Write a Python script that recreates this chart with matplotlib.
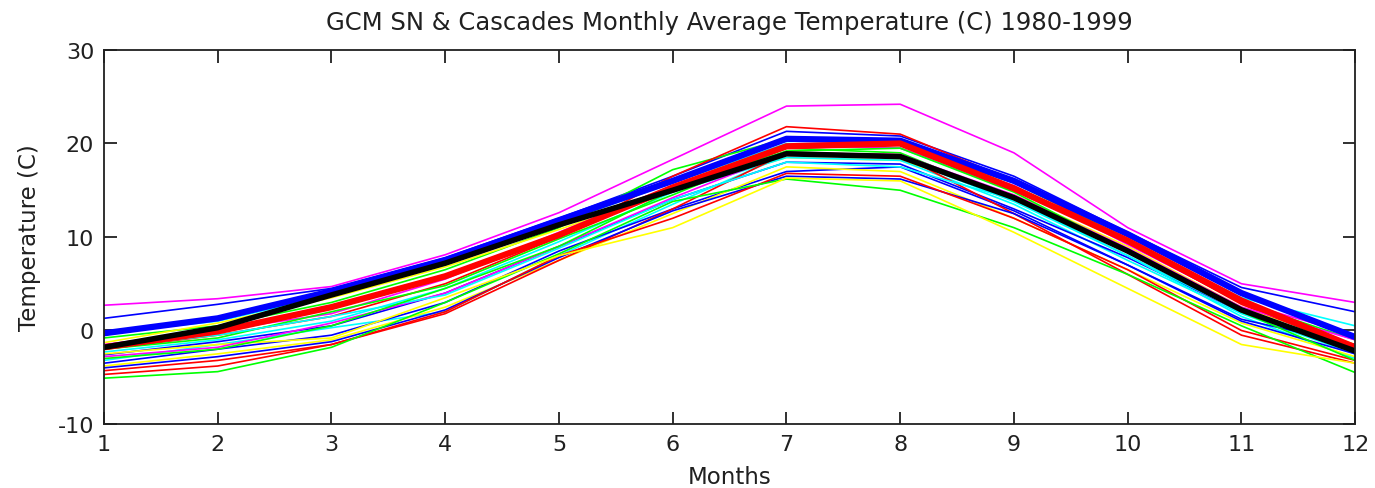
import matplotlib
matplotlib.use("Agg")
from matplotlib import pyplot as plt

months = list(range(1, 13))

# pure RGB line colours
B, G, R, C, M, Y = "#0000ff", "#00ff00", "#ff0000", "#00ffff", "#ff00ff", "#ffff00"

# individual GCM runs (thin lines)
gcm_runs = [
    (M, [2.7, 3.4, 4.7, 8.1, 12.6, 18.3, 24.0, 24.2, 19.0, 11.0, 5.0, 3.0]),
    (B, [1.3, 2.8, 4.5, 7.8, 12.0, 16.5, 21.3, 20.8, 16.5, 10.5, 4.6, 2.0]),
    (C, [-0.3, 1.0, 3.8, 7.0, 11.5, 15.8, 20.0, 19.5, 15.0, 9.5, 3.5, 0.5]),
    (G, [-0.8, 0.5, 3.0, 6.5, 11.0, 17.2, 20.5, 19.8, 15.8, 9.8, 3.0, -1.0]),
    (Y, [-1.3, 0.8, 3.5, 6.8, 10.8, 15.0, 18.5, 18.2, 14.5, 9.0, 2.5, -1.5]),
    (M, [-1.5, 0.0, 1.8, 5.5, 10.5, 15.5, 19.8, 19.5, 15.5, 9.2, 3.0, -0.5]),
    (R, [-2.0, -0.5, 1.5, 5.0, 10.0, 16.5, 21.8, 21.0, 16.0, 9.5, 2.8, -2.0]),
    (C, [-2.3, -1.0, 1.0, 4.5, 9.5, 14.8, 18.5, 18.2, 13.5, 7.5, 1.8, -2.5]),
    (B, [-2.6, -1.2, 0.5, 4.0, 9.0, 14.0, 18.0, 17.8, 13.0, 7.8, 2.0, -2.0]),
    (G, [-2.0, -0.8, 2.0, 4.8, 9.8, 14.5, 19.5, 19.0, 14.0, 8.5, 2.2, -1.8]),
    (C, [-3.2, -1.5, 0.3, 2.0, 8.0, 13.5, 18.8, 18.5, 13.8, 8.0, 1.5, -3.0]),
    (B, [-3.5, -2.0, -0.5, 3.0, 8.5, 13.0, 17.0, 17.5, 12.8, 7.0, 1.2, -1.5]),
    (Y, [-3.8, -2.5, -1.0, 2.5, 7.5, 12.5, 17.5, 17.0, 12.0, 6.5, 0.8, -2.8]),
    (R, [-4.3, -3.2, -1.5, 1.8, 7.5, 13.0, 19.0, 18.8, 12.5, 6.0, -0.5, -3.5]),
    (B, [-4.0, -2.8, -1.2, 2.2, 7.8, 12.8, 16.5, 16.2, 12.5, 7.0, 1.0, -2.5]),
    (R, [-4.7, -3.8, -1.5, 2.0, 8.0, 12.0, 16.8, 16.5, 12.0, 6.5, 0.0, -3.2]),
    (G, [-5.1, -4.4, -1.8, 3.0, 8.2, 13.8, 16.2, 15.0, 11.0, 6.0, 0.5, -4.5]),
    (Y, [-2.5, -1.5, -0.8, 3.5, 8.0, 11.0, 16.3, 16.0, 10.5, 4.5, -1.5, -3.5]),
    (M, [-2.8, -1.8, 0.8, 4.0, 9.0, 14.2, 19.0, 18.8, 14.5, 8.8, 2.5, -1.0]),
    (C, [-1.8, -0.5, 1.5, 3.8, 8.8, 14.0, 18.0, 17.5, 14.0, 8.0, 2.0, -2.2]),
    (G, [-3.0, -2.0, 0.5, 4.5, 9.0, 15.0, 19.2, 19.5, 14.8, 8.5, 2.0, -3.2]),
]

# summary curves (thick lines)
thick_blue = [-0.3, 1.3, 4.2, 7.5, 11.8, 16.0, 20.5, 20.3, 16.0, 10.3, 4.0, -0.7]
thick_red = [-1.8, -0.1, 2.5, 5.8, 10.2, 15.3, 19.7, 20.0, 15.2, 9.6, 3.2, -1.8]
thick_black = [-1.8, 0.3, 3.8, 7.2, 11.3, 15.0, 18.9, 18.6, 14.2, 8.5, 2.2, -2.2]

plt.rcParams["font.family"] = ["DejaVu Sans"]
plt.rcParams["axes.unicode_minus"] = False

fig = plt.figure(figsize=(13.75, 4.89), dpi=100)
ax = fig.add_axes([0.0756, 0.1309, 0.91, 0.7648])

for c, vals in gcm_runs:
    ax.plot(months, vals, color=c, lw=1.2)
ax.plot(months, thick_blue, color=B, lw=4.5)
ax.plot(months, thick_red, color=R, lw=4.5)
ax.plot(months, thick_black, color="k", lw=4)

ax.set_xlim(1, 12)
ax.set_ylim(-10, 30)
ax.set_xticks(months)
ax.set_yticks([-10, 0, 10, 20, 30])
ax.tick_params(direction="in", length=9, width=1.3, labelsize=16,
               top=True, right=True, pad=7, colors="#202020")
for s in ax.spines.values():
    s.set_linewidth(1.3)
    s.set_color("#202020")

ax.set_title("GCM SN & Cascades Monthly Average Temperature (C) 1980-1999",
             fontsize=17.5, pad=15, color="#202020")
ax.set_xlabel("Months", fontsize=16.5, labelpad=8, color="#202020")
ax.set_ylabel("Temperature (C)", fontsize=16.5, labelpad=12, color="#202020")

fig.savefig("out.png", dpi=100)
